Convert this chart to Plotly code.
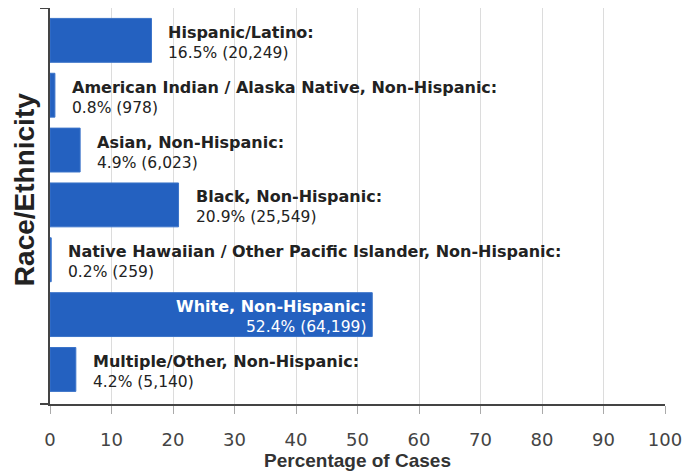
import plotly.graph_objects as go

categories = [
    "Hispanic/Latino",
    "American Indian / Alaska Native, Non-Hispanic",
    "Asian, Non-Hispanic",
    "Black, Non-Hispanic",
    "Native Hawaiian / Other Pacific Islander, Non-Hispanic",
    "White, Non-Hispanic",
    "Multiple/Other, Non-Hispanic",
]
percents = [16.5, 0.8, 4.9, 20.9, 0.2, 52.4, 4.2]
counts = [20249, 978, 6023, 25549, 259, 64199, 5140]
inside = [False, False, False, False, False, True, False]
x_ticks = [0, 10, 20, 30, 40, 50, 60, 70, 80, 90, 100]

BAR = "#2461C0"
LABEL_FONT = "DejaVu Sans, Verdana, sans-serif"
TITLE_FONT = "Liberation Sans, Arial, sans-serif"

Y_LO, Y_HI = -0.59, len(categories) - 1 + 0.63

fig = go.Figure()
fig.add_trace(go.Bar(
    y=categories, x=percents, orientation="h",
    marker=dict(color=BAR, line=dict(color="#3b74c9", width=1)),
    width=0.8, hoverinfo="skip",
))

for cat, p, n, ins in zip(categories, percents, counts, inside):
    txt = f"<span style='font-size:16px'><b>{cat}:</b></span><br>{p}% ({n:,})"
    fig.add_annotation(
        x=p, y=cat, xref="x", yref="y", text=txt, showarrow=False,
        xanchor="right" if ins else "left",
        align="right" if ins else "left",
        xshift=-3 if ins else 15, yshift=-2,
        font=dict(family=LABEL_FONT, size=15.5, color="white" if ins else "#222"),
    )

fig.add_annotation(
    x=0, xref="paper", y=0.54, yref="paper", xshift=-26,
    xanchor="center", yanchor="middle",
    text="<b>Race/Ethnicity</b>", textangle=-90, showarrow=False,
    font=dict(family=TITLE_FONT, size=28, color="#222"),
)

fig.update_layout(
    width=688, height=464,
    margin=dict(l=42, r=31, t=0, b=68, autoexpand=False),
    paper_bgcolor="white", plot_bgcolor="white",
    showlegend=False,
    xaxis=dict(
        range=[0, 100], tickvals=x_ticks, showgrid=True, gridcolor="#dcdcdc",
        zeroline=False, showline=True, linecolor="#444", linewidth=1.5,
        ticks="outside", ticklen=8, tickcolor="#aaa", ticklabelstandoff=11,
        tickfont=dict(family=LABEL_FONT, size=18, color="#444"),
        title=dict(text="<b>Percentage of Cases</b>", standoff=0,
                   font=dict(family=TITLE_FONT, size=19, color="#333")),
    ),
    yaxis=dict(
        range=[Y_HI, Y_LO], showticklabels=False, showgrid=False,
        showline=True, linecolor="#444", linewidth=1.5,
        tickvals=[Y_LO, Y_HI], ticks="outside", ticklen=8, tickcolor="#444",
        tickwidth=1.5, zeroline=False,
    ),
)

fig.write_html("out.html")
